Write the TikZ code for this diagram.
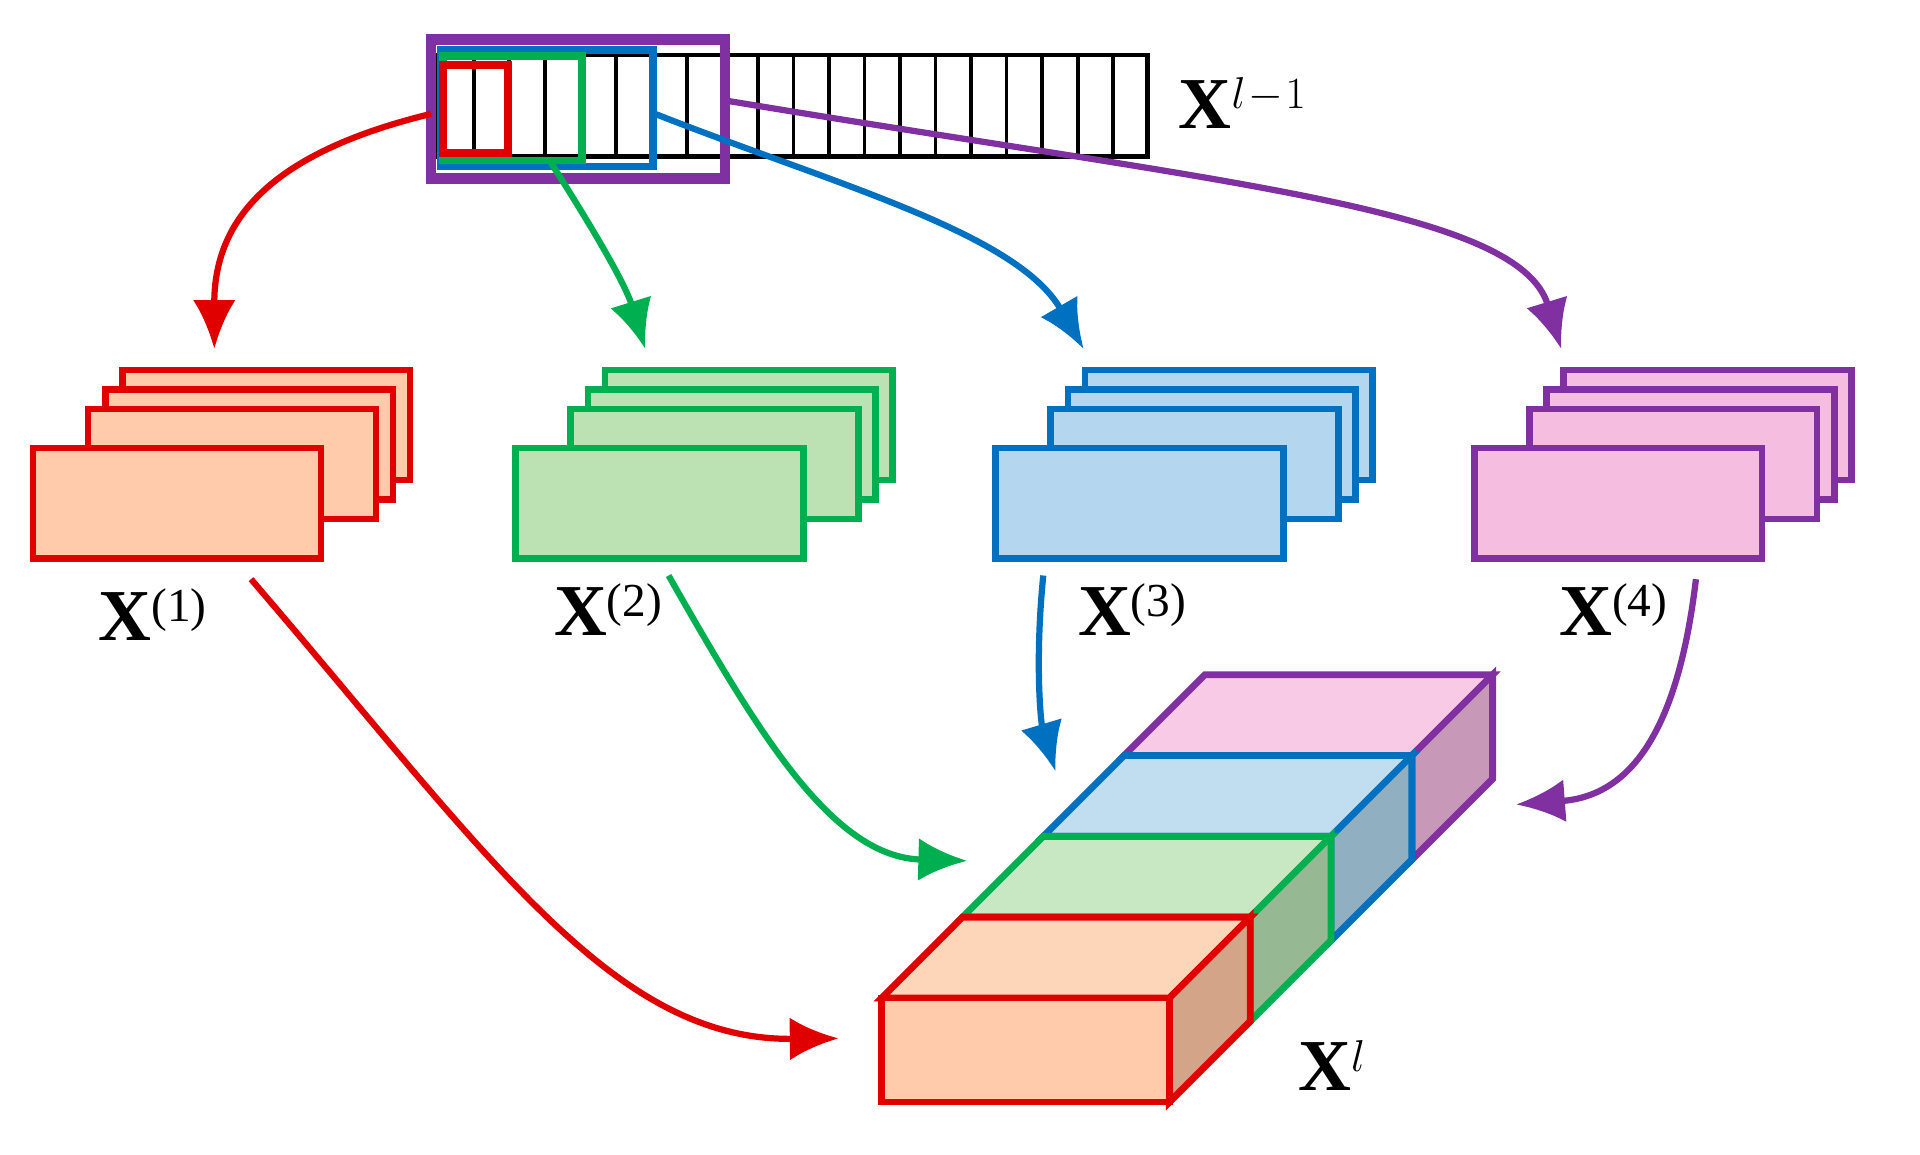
\documentclass[tikz,border=0pt]{standalone}
\usepackage{fontspec}
\setmainfont{Liberation Serif}
\usetikzlibrary{arrows.meta}
\definecolor{cR}{HTML}{E00000}\definecolor{fR}{HTML}{FFCBAA}\definecolor{tR}{HTML}{FDD5B8}\definecolor{sR}{HTML}{D4A488}
\definecolor{cG}{HTML}{00B050}\definecolor{fG}{HTML}{BCE2B4}\definecolor{tG}{HTML}{C8E8C4}\definecolor{sG}{HTML}{96B893}
\definecolor{cB}{HTML}{0070C0}\definecolor{fB}{HTML}{B4D6EE}\definecolor{tB}{HTML}{C0DEF0}\definecolor{sB}{HTML}{90AFC0}
\definecolor{cP}{HTML}{8030A0}\definecolor{fP}{HTML}{F5BDE0}\definecolor{tP}{HTML}{F8CAE6}\definecolor{sP}{HTML}{C898B8}
\begin{document}
\begin{tikzpicture}[x=0.02cm,y=-0.02cm,
  arr/.style={line width=2.9pt,-{Latex[length=0.8cm,width=0.7cm]}},
  lab/.style={font=\fontsize{34}{40}\selectfont},
  sup/.style={},
  sheet/.style={line width=3pt}]
\useasboundingbox (0,0) rectangle (1568,943);
% top strip
\draw[line width=2.2pt] (358,45) rectangle (937,128);
\foreach \i in {1,...,19} \draw[line width=1.8pt] (358+29*\i,45) -- (358+29*\i,128);
\draw[cP,line width=5pt] (352,32) rectangle (592,146);
\draw[cB,line width=3.6pt] (360,41) rectangle (533,136);
\draw[cG,line width=3.6pt] (362,46) rectangle (475,131);
\draw[cR,line width=3.6pt] (362,53) rectangle (415,125);
\node[lab] (xin) at (1015,84) {\textbf{X}\textsuperscript{\fontsize{22}{26}\selectfont$l\!-\!1$}};
\coordinate (sR) at (352,93); \coordinate (sG) at (450,133); \coordinate (sB) at (535,93); \coordinate (sP) at (592,82);
% stacks
\foreach \x/\c/\f/\n in {27/cR/fR/1,421/cG/fG/2,813/cB/fB/3,1204/cP/fP/4}{
  \foreach \dx/\dy in {73/-64,59/-48,45/-32,0/0}
    \draw[sheet,draw=\c,fill=\f] (\x+\dx,366+\dy) rectangle ++(235,90);
}
\coordinate (tR) at (175,285); \coordinate (tG) at (527,285); \coordinate (tB) at (885,285); \coordinate (tP) at (1275,285);
\node[lab] (x1) at (125,502) {\textbf{X}\textsuperscript{\fontsize{22}{26}\selectfont(1)}};
\node[lab] (x2) at (497,498) {\textbf{X}\textsuperscript{\fontsize{22}{26}\selectfont(2)}};
\node[lab] (x3) at (925,498) {\textbf{X}\textsuperscript{\fontsize{22}{26}\selectfont(3)}};
\node[lab] (x4) at (1318,498) {\textbf{X}\textsuperscript{\fontsize{22}{26}\selectfont(4)}};
% cuboid
\foreach \k/\c/\t/\s in {3/cP/tP/sP,2/cB/tB/sB,1/cG/tG/sG,0/cR/tR/sR}{
  \pgfmathsetmacro\xo{720+66*\k}\pgfmathsetmacro\yo{900-66*\k}
  \draw[line width=3.2pt,draw=\c,fill=\t,line join=miter] (\xo,\yo-85) -- (\xo+66,\yo-151) -- (\xo+301,\yo-151) -- (\xo+235,\yo-85) -- cycle;
  \draw[line width=3.2pt,draw=\c,fill=\s] (\xo+235,\yo) -- (\xo+235,\yo-85) -- (\xo+301,\yo-151) -- (\xo+301,\yo-66) -- cycle;
}
\draw[line width=3.2pt,draw=cR,fill=fR] (720,815) rectangle (955,900);
\node[lab] (xl) at (1088,870) {\textbf{X}\textsuperscript{\fontsize{22}{26}\selectfont$l$}};
\coordinate (eR) at (205,473); \coordinate (eG) at (546,470); \coordinate (eB) at (852,470); \coordinate (eP) at (1385,473);
\coordinate (hR) at (685,848); \coordinate (hG) at (790,703); \coordinate (hB) at (862,630); \coordinate (hP) at (1238,657);
% arrows
\draw[arr,cR] (sR) .. controls (220,125) and (175,180) .. (tR);
\draw[arr,cG] (sG) .. controls (480,180) and (510,230) .. (tG);
\draw[arr,cB] (sB) .. controls (680,150) and (830,190) .. (tB);
\draw[arr,cP] (sP) .. controls (1000,150) and (1240,170) .. (tP);
\draw[arr,cR] (eR) .. controls (400,700) and (500,850) .. (hR);
\draw[arr,cG] (eG) .. controls (620,600) and (680,700) .. (hG);
\draw[arr,cB] (eB) .. controls (845,540) and (850,590) .. (hB);
\draw[arr,cP] (eP) .. controls (1370,600) and (1330,650) .. (hP);
\end{tikzpicture}
\end{document}
